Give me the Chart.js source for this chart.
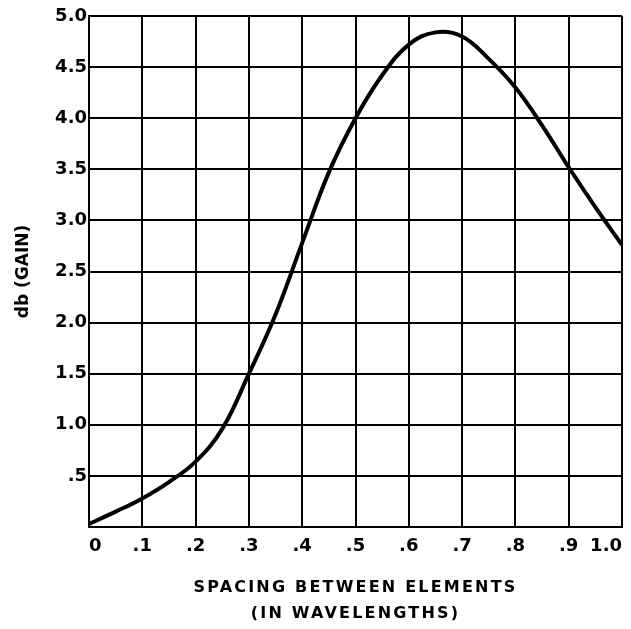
<!DOCTYPE html>
<html>
<head>
<meta charset="utf-8">
<script src="https://cdn.jsdelivr.net/npm/chart.js@4/dist/chart.umd.min.js"></script>
<style>
  html, body { margin: 0; padding: 0; background: #fff; }
  #wrap { width: 631px; height: 629px; }
</style>
</head>
<body>
<div id="wrap"><canvas id="grafico" width="631" height="629"></canvas></div>
<script>
// valores
const spacing = [0, 0.05, 0.1, 0.15, 0.2, 0.25, 0.3, 0.35, 0.4, 0.45, 0.5, 0.55, 0.6, 0.65, 0.7, 0.75, 0.8, 0.85, 0.9, 0.95, 1.0];
const gainDb = [0.03, 0.15, 0.28, 0.44, 0.64, 0.96, 1.5, 2.08, 2.78, 3.47, 4.0, 4.42, 4.72, 4.84, 4.8, 4.58, 4.3, 3.93, 3.52, 3.13, 2.76];
const xTickLabels = ['0', '.1', '.2', '.3', '.4', '.5', '.6', '.7', '.8', '.9', '1.0'];
const yTickLabels = ['', '.5', '1.0', '1.5', '2.0', '2.5', '3.0', '3.5', '4.0', '4.5', '5.0'];
const xTitle = ['SPACING BETWEEN ELEMENTS', '(IN WAVELENGTHS)'];
const yTitle = 'db (GAIN)';

const pontos = spacing.map((x, i) => ({ x: x, y: gainDb[i] }));
const fonte = 'DejaVu Sans';

// espaçamento entre letras no título do eixo x
const tituloEspacado = {
    id: 'tituloEspacado',
    afterLayout(chart) {
        const s = chart.scales.x;
        if (s._espacado) return;
        const original = s.drawTitle.bind(s);
        s.drawTitle = function () {
            chart.ctx.save();
            chart.ctx.letterSpacing = '2.2px';
            original();
            chart.ctx.restore();
        };
        s._espacado = true;
    }
};

new Chart(document.getElementById('grafico'), {
    type: 'scatter',
    data: {
        datasets: [{
            data: pontos,
            showLine: true,
            borderColor: '#000',
            borderWidth: 4,
            pointRadius: 0,
            tension: 0.4
        }]
    },
    options: {
        responsive: false,
        animation: false,
        layout: { padding: { top: 16, right: 9, left: 0, bottom: 0 } },
        plugins: { legend: { display: false }, tooltip: { enabled: false } },
        scales: {
            x: {
                type: 'linear',
                min: 0,
                max: 1,
                afterBuildTicks(scale) {
                    scale.ticks = xTickLabels.map((_, i) => ({ value: i / 10 }));
                },
                afterFit(scale) {
                    scale.height = 102;
                    scale.paddingLeft = 0;
                    scale.paddingRight = 0;
                },
                grid: { color: '#000', lineWidth: 2, drawTicks: false },
                border: { color: '#000', width: 2 },
                ticks: {
                    align: 'inner',
                    padding: 9,
                    color: '#000',
                    font: { family: fonte, size: 18, weight: 'bold' },
                    maxRotation: 0,
                    callback: (v, i) => xTickLabels[i]
                },
                title: {
                    display: true,
                    text: xTitle,
                    color: '#000',
                    font: { family: fonte, size: 16, weight: 'bold', lineHeight: 1.625 },
                    padding: { top: 0, bottom: 2 }
                }
            },
            y: {
                type: 'linear',
                min: 0,
                max: 5,
                afterBuildTicks(scale) {
                    scale.ticks = yTickLabels.map((_, i) => ({ value: i / 2 }));
                },
                afterFit(scale) {
                    scale.width = 89;
                },
                grid: { color: '#000', lineWidth: 2, drawTicks: false },
                border: { color: '#000', width: 2 },
                ticks: {
                    padding: 2,
                    color: '#000',
                    font: { family: fonte, size: 18, weight: 'bold' },
                    callback: (v, i) => yTickLabels[i]
                },
                title: {
                    display: true,
                    text: yTitle,
                    color: '#000',
                    font: { family: fonte, size: 17, weight: 'bold' },
                    padding: { top: 13, bottom: 0 }
                }
            }
        }
    },
    plugins: [tituloEspacado]
});
</script>
</body>
</html>
